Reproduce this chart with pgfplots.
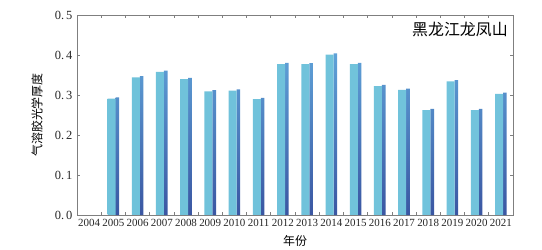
\documentclass[border=0pt]{standalone}
\usepackage{pgfplots}
\pgfplotsset{compat=1.18}
\usepackage{fontspec}
\setmainfont{Liberation Serif}
\newfontfamily\cjk{Noto Sans CJK SC}
\definecolor{frontL}{HTML}{6FC2DA}
\definecolor{frontM}{HTML}{95D6EA}
\definecolor{frontR}{HTML}{72C3DC}
\definecolor{sideT}{HTML}{5FA2D8}
\definecolor{sideB}{HTML}{3A56A2}
\definecolor{frameD}{HTML}{7F7F7F}
\begin{document}
\begin{tikzpicture}
\begin{axis}[
  scale only axis,
  width=436bp, height=200bp,
  xmin=-0.5, xmax=17.5,
  ymin=0, ymax=0.5,
  xtick={0,...,17},
  xticklabels={2004,2005,2006,2007,2008,2009,2010,2011,2012,2013,2014,2015,2016,2017,2018,2019,2020,2021},
  major x tick style={draw=none},
  minor xtick={-0.5,0.5,...,17.5},
  minor tick length=3bp,
  ytick={0,0.1,0.2,0.3,0.4,0.5},
  yticklabels={0.\hspace{2pt}0,0.\hspace{2pt}1,0.\hspace{2pt}2,0.\hspace{2pt}3,0.\hspace{2pt}4,0.\hspace{2pt}5},
  major tick length=3bp,
  tick align=inside,
  tick style={frameD, line width=0.6bp},
  axis line style={frameD, line width=0.9bp},
  ticklabel style={text=black!85},
  xticklabel style={font=\fontsize{11}{12}\selectfont, yshift=-1bp},
  yticklabel style={font=\fontsize{12.5}{14}\selectfont, xshift=-1bp},
  every axis x label/.style={at={(axis description cs:0.5,0)}, yshift=-26bp, anchor=center},
  every axis y label/.style={at={(axis description cs:0,0.5)}, xshift=-40bp, rotate=90, anchor=center},
  xlabel={\cjk\fontsize{12}{14}\selectfont 年份},
  ylabel={\cjk\fontsize{12}{14}\selectfont 气溶胶光学厚度},
  clip=false,
]
% side faces (darker, slightly taller for perspective)
\addplot[ybar, bar width=3.6bp, bar shift=4bp, draw=none, top color=sideT, bottom color=sideB]
coordinates {(1,0.294) (2,0.347) (3,0.361) (4,0.343) (5,0.312) (6,0.314) (7,0.293) (8,0.3805) (9,0.380) (10,0.404) (11,0.3805) (12,0.3255) (13,0.316) (14,0.2655) (15,0.337) (16,0.2655) (17,0.306)};
% front faces
\addplot[ybar, bar width=8bp, bar shift=-1.8bp, draw=none, left color=frontL, middle color=frontM, right color=frontR]
coordinates {(1,0.291) (2,0.344) (3,0.358) (4,0.340) (5,0.309) (6,0.311) (7,0.290) (8,0.3775) (9,0.377) (10,0.401) (11,0.3775) (12,0.3225) (13,0.313) (14,0.2625) (15,0.334) (16,0.2625) (17,0.303)};
\node[anchor=north east, inner sep=0pt, font=\cjk\fontsize{16}{18}\selectfont] at (axis description cs:0.9885,0.965) {黑龙江龙凤山};
\end{axis}
\pgfresetboundingbox
\path[use as bounding box] (-77bp,-35bp) rectangle (465bp,215bp);
\end{tikzpicture}
\end{document}
